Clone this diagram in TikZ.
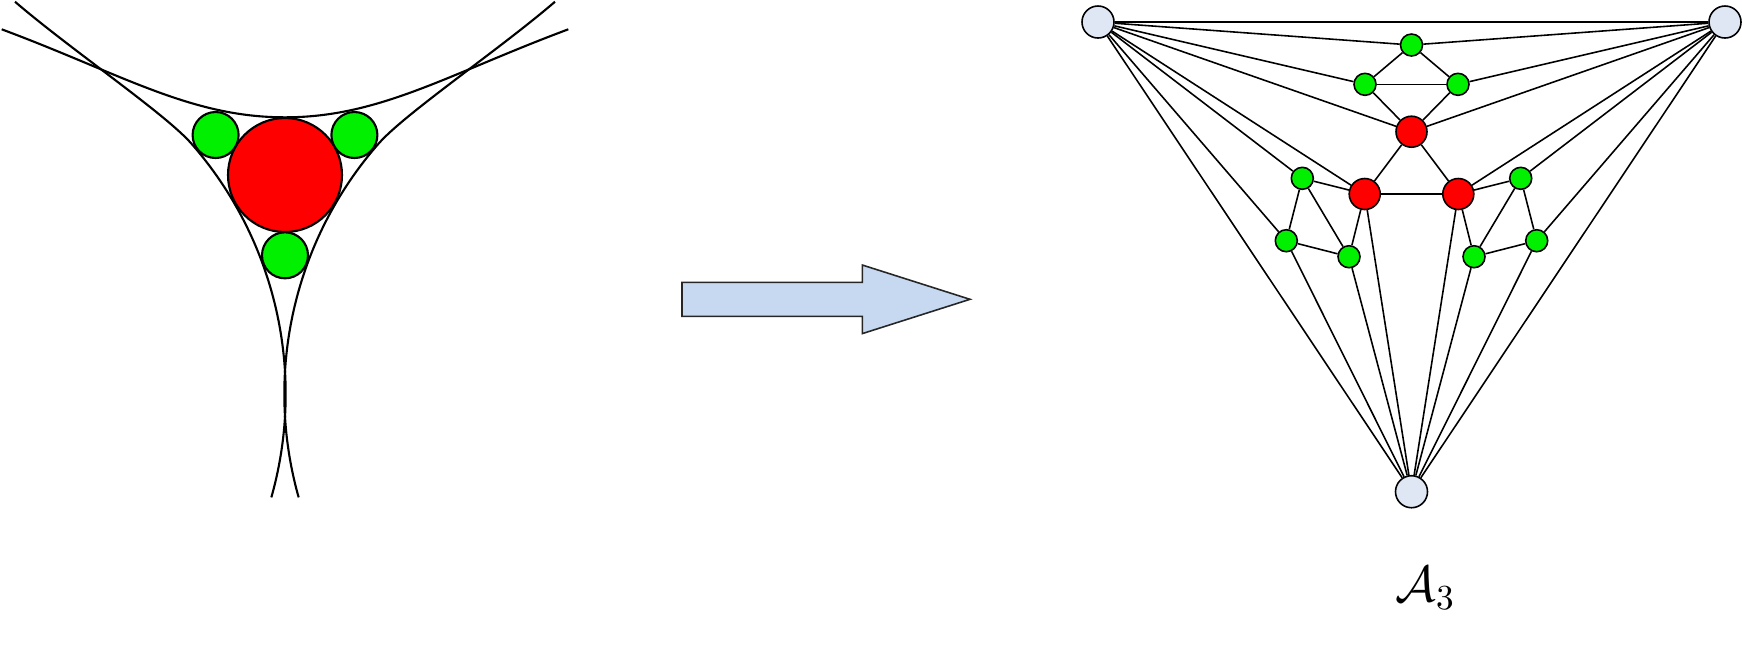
\documentclass[tikz,border=0pt]{standalone}
\usepackage{tikz}
\usetikzlibrary{positioning}

\definecolor{outerblue}{RGB}{222,231,243}
\definecolor{leafgreen}{RGB}{0,240,0}
\definecolor{arrowblue}{RGB}{198,217,241}

\begin{document}
\begin{tikzpicture}[
        x=0.01cm, y=-0.01cm,
        every node/.style={draw, circle, inner sep=0pt, line width=0.45pt},
        every path/.style={line width=0.45pt},
        outer/.style={fill=outerblue, minimum size=0.32cm},
        hub/.style={fill=red, minimum size=0.31cm},
        leaf/.style={fill=leafgreen, minimum size=0.22cm},
        disc/.style={draw, line width=0.6pt},
        curve/.style={line width=0.6pt}
    ]
  \useasboundingbox (0,0) rectangle (1742,647);

  % Circles
  \draw[curve] (1.7,29.3) .. controls (121.7,74) and (190,117.3) .. (285,117.3)
    .. controls (380,117.3) and (448.3,74) .. (568.3,29.3);
  \draw[curve] ([shift={(-94,394)}]15.8:379.7) arc[start angle=15.8, end angle=-41.3, radius=379.7]
    .. controls +(-26.4,-30) and (70,49) .. (15,1.7);
  \draw[curve] ([shift={(664,394)}]164.2:379.7) arc[start angle=164.2, end angle=221.3, radius=379.7]
    .. controls +(26.4,-30) and (500,49) .. (555,1.7);
  \draw[disc, fill=red] (285,175) circle (57);
  \draw[disc, fill=leafgreen] (215.6,135) circle (23);
  \draw[disc, fill=leafgreen] (354.4,135) circle (23);
  \draw[disc, fill=leafgreen] (285,255.3) circle (23);

  % Arrow
  \draw[fill=arrowblue, draw=black!85] (682,282.3) -- (862.3,282.3) -- (862.3,265) -- (970,299.3)
    -- (862.3,333.6) -- (862.3,316.3) -- (682,316.3) -- cycle;

  % Nodes
  \node (left) [outer] at (1098,22) {};
  \node (right) [outer] at (1725,22) {};
  \node (bottom) [outer] at (1411.5,491.7) {};
  \node (redtop) [hub] at (1411.5,131.7) {};
  \node (redleft) [hub] at (1364.7,194) {};
  \node (redright) [hub] at (1458.3,194) {};
  \node (greentop) [leaf] at (1411.5,45) {};
  \node (greenul) [leaf] at (1365,84.3) {};
  \node (greenur) [leaf] at (1458,84.3) {};
  \node (greenlu) [leaf] at (1302.3,178.3) {};
  \node (greenla) [leaf] at (1286.3,240.7) {};
  \node (greenlb) [leaf] at (1349,256.7) {};
  \node (greenru) [leaf] at (1520.7,178.3) {};
  \node (greenra) [leaf] at (1536.7,240.7) {};
  \node (greenrb) [leaf] at (1474,256.7) {};
  \node (label) [below=0.58cm of bottom, xshift=0.14cm, draw=none, rectangle] {\Large$\mathcal{A}_3$};

  % Edges
  \draw (left) -- (right);
  \draw (left) -- (greentop);
  \draw (left) -- (greenul);
  \draw (left) -- (redtop);
  \draw (left) -- (redleft);
  \draw (left) -- (greenlu);
  \draw (left) -- (greenla);
  \draw (left) -- (bottom);
  \draw (right) -- (greentop);
  \draw (right) -- (greenur);
  \draw (right) -- (redtop);
  \draw (right) -- (redright);
  \draw (right) -- (greenru);
  \draw (right) -- (greenra);
  \draw (right) -- (bottom);
  \draw (greentop) -- (greenul);
  \draw (greentop) -- (greenur);
  \draw (greenul) -- (greenur);
  \draw (greenul) -- (redtop);
  \draw (greenur) -- (redtop);
  \draw (redtop) -- (redleft);
  \draw (redtop) -- (redright);
  \draw (redleft) -- (redright);
  \draw (redleft) -- (greenlu);
  \draw (redleft) -- (greenlb);
  \draw (redleft) -- (bottom);
  \draw (redright) -- (greenru);
  \draw (redright) -- (greenrb);
  \draw (redright) -- (bottom);
  \draw (greenlu) -- (greenla);
  \draw (greenlu) -- (greenlb);
  \draw (greenla) -- (greenlb);
  \draw (greenla) -- (bottom);
  \draw (greenlb) -- (bottom);
  \draw (greenru) -- (greenra);
  \draw (greenru) -- (greenrb);
  \draw (greenra) -- (greenrb);
  \draw (greenra) -- (bottom);
  \draw (greenrb) -- (bottom);
\end{tikzpicture}
\end{document}
